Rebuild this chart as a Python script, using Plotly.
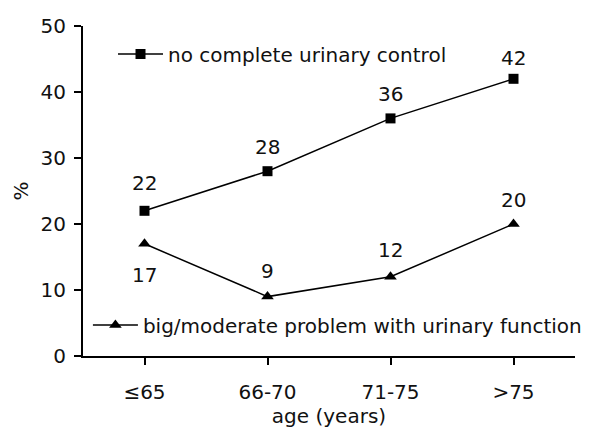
import plotly.graph_objects as go

categories = ["≤65", "66-70", "71-75", ">75"]
no_control = [22, 28, 36, 42]
problem = [17, 9, 12, 20]
y_ticks = [0, 10, 20, 30, 40, 50]

# label offsets (styling only), in px
no_control_shift = [28, 24, 24, 21]
problem_shift = [-31, 26, 27, 24]

FONT = "DejaVu Sans, Liberation Sans, Arial, sans-serif"
FS = 20

fig = go.Figure()
fig.add_trace(go.Scatter(
    x=categories, y=no_control, mode="lines+markers",
    name="no complete urinary control",
    line=dict(color="black", width=1.5),
    marker=dict(symbol="square", size=10, color="black"),
    legend="legend",
))
fig.add_trace(go.Scatter(
    x=categories, y=problem, mode="lines+markers",
    name="big/moderate problem with urinary function",
    line=dict(color="black", width=1.5),
    marker=dict(symbol="triangle-up", size=11, color="black"),
    legend="legend2",
))

annotations = []
for c, v, s in zip(categories, no_control, no_control_shift):
    annotations.append(dict(x=c, y=v, text=str(v), showarrow=False, yshift=s,
                            font=dict(size=FS, color="#111")))
for c, v, s in zip(categories, problem, problem_shift):
    annotations.append(dict(x=c, y=v, text=str(v), showarrow=False, yshift=s,
                            font=dict(size=FS, color="#111")))

fig.update_layout(
    width=593, height=447,
    margin=dict(l=75, r=26, t=18, b=99, autoexpand=False),
    paper_bgcolor="white", plot_bgcolor="white",
    font=dict(family=FONT, size=FS, color="#111"),
    showlegend=True,
    annotations=annotations,
    legend=dict(x=0.061, y=0.915, xanchor="left", yanchor="middle",
                bgcolor="rgba(0,0,0,0)", font=dict(size=FS), itemwidth=45),
    legend2=dict(x=0.01, y=0.094, xanchor="left", yanchor="middle",
                 bgcolor="rgba(0,0,0,0)", font=dict(size=FS), itemwidth=45),
    xaxis=dict(
        type="category", range=[-0.5, 3.5], automargin=False,
        showline=True, linecolor="black", linewidth=2,
        ticks="outside", ticklen=7, tickwidth=1.5, tickcolor="black",
        ticklabelstandoff=10,
        showgrid=False, zeroline=False,
        title=dict(text="age (years)", standoff=6, font=dict(size=FS)),
        tickfont=dict(size=FS),
    ),
    yaxis=dict(
        range=[0, 50], tickvals=y_ticks, automargin=False,
        showline=True, linecolor="black", linewidth=2,
        ticks="outside", ticklen=7, tickwidth=1.5, tickcolor="black",
        ticklabelstandoff=4,
        showgrid=False, zeroline=False,
        title=dict(text="%", standoff=7, font=dict(size=FS)),
        tickfont=dict(size=FS),
    ),
)

fig.write_html("out.html")
